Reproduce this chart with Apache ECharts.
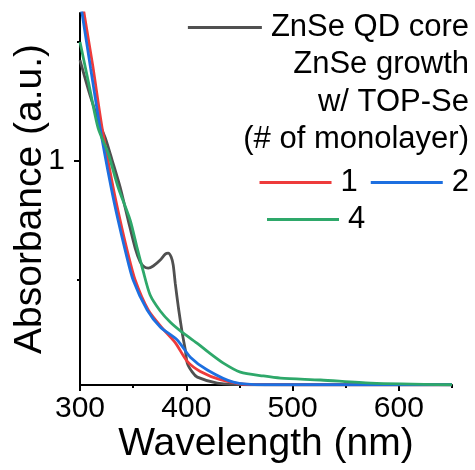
<!DOCTYPE html>
<html>
<head>
<meta charset="utf-8">
<script src="https://cdn.jsdelivr.net/npm/echarts@6/dist/echarts.min.js"></script>
<style>
  html, body { margin: 0; padding: 0; background: #fff; }
  #chart { width: 475px; height: 470px; }
</style>
</head>
<body>
<div id="chart"></div>
<script>
// Absorption spectra: ZnSe QD core and after ZnSe shell growth with TOP-Se
const seriesNames = ['ZnSe QD core', '1', '2', '4'];
const seriesColors = ['#505050', '#ee3b3b', '#1d6fe0', '#2ea86a'];

const coreWl  = [300, 309.4, 318.9, 324.5, 330.2, 337.7, 345.3, 351.9, 356.6, 360.4, 364.2, 368.9, 375.5, 380.2, 383.0, 385.8, 387.7, 389.6, 392.5, 396.2, 399.1, 400.9, 405.7, 410.4, 429.2, 460.4, 550, 650];
const coreAbs = [1.424, 1.277, 1.151, 1.088, 1.004, 0.891, 0.752, 0.634, 0.576, 0.555, 0.550, 0.559, 0.584, 0.609, 0.613, 0.597, 0.563, 0.487, 0.387, 0.277, 0.206, 0.151, 0.113, 0.092, 0.067, 0.060, 0.060, 0.060];

const ml1Wl  = [300, 303.8, 312, 320.8, 331.1, 337.7, 344.3, 351.9, 364.2, 376.4, 389.6, 400.9, 413.2, 432.1, 459.4, 550, 650];
const ml1Abs = [1.73, 1.622, 1.40, 1.139, 0.891, 0.752, 0.626, 0.500, 0.374, 0.303, 0.237, 0.158, 0.116, 0.082, 0.061, 0.060, 0.060];

const ml2Wl  = [300, 301.9, 310, 318.9, 329.2, 335.8, 342.5, 350.0, 363.2, 375.5, 391.5, 403.8, 419.8, 444.3, 474.5, 550, 650];
const ml2Abs = [1.68, 1.622, 1.39, 1.139, 0.891, 0.752, 0.626, 0.500, 0.374, 0.303, 0.248, 0.176, 0.122, 0.071, 0.060, 0.060, 0.060];

const ml4Wl  = [300, 308.5, 317, 326.4, 335.8, 347.2, 353.8, 359.4, 366.0, 375.5, 385.0, 397.2, 411.3, 420.8, 434.9, 450.9, 472.6, 488.7, 526.4, 573.6, 650];
const ml4Abs = [1.50, 1.319, 1.139, 1.034, 0.891, 0.752, 0.634, 0.538, 0.437, 0.370, 0.323, 0.277, 0.231, 0.197, 0.151, 0.113, 0.097, 0.088, 0.080, 0.067, 0.060];

const xMajorTicks = [300, 400, 500, 600];
const xMinorTicks = [350, 450, 550, 650];
const yMajorTicks = [1];
const yMinorTicks = [0.5, 1.5];

const pairs = (xs, ys) => xs.map((x, i) => [x, ys[i]]);
const seriesData = [
  pairs(coreWl, coreAbs),
  pairs(ml1Wl, ml1Abs),
  pairs(ml2Wl, ml2Abs),
  pairs(ml4Wl, ml4Abs)
];

const FONT = 'Liberation Sans, Arial, sans-serif';
const X_MIN = 300, X_MAX = 650, Y_MIN = 0.059, Y_MAX = 1.622;

const chart = echarts.init(document.getElementById('chart'), null, { renderer: 'canvas' });

const legendText = { fontFamily: FONT, fontSize: 31, color: '#000', lineHeight: 31, padding: [0, 0, 0, 4] };

chart.setOption({
  animation: false,
  backgroundColor: '#fff',
  grid: { left: 80, right: 23, top: 13, bottom: 85, containLabel: false, outerBoundsMode: 'none' },
  xAxis: [
    {
      type: 'value', min: X_MIN, max: X_MAX,
      name: 'Wavelength (nm)', nameLocation: 'middle', nameGap: 40, nameMoveOverlap: false,
      nameTextStyle: { fontFamily: FONT, fontSize: 39, color: '#000' },
      axisLine: { show: true, onZero: false, lineStyle: { color: '#000', width: 2 } },
      axisTick: { show: true, inside: false, length: 6, customValues: xMajorTicks, lineStyle: { color: '#000', width: 2 } },
      axisLabel: { customValues: xMajorTicks, margin: 9, fontFamily: FONT, fontSize: 30, color: '#000' },
      splitLine: { show: false }
    },
    {
      type: 'value', min: X_MIN, max: X_MAX, position: 'bottom', offset: 0,
      axisLine: { show: false },
      axisTick: { show: true, length: 3, customValues: xMinorTicks, lineStyle: { color: '#000', width: 2 } },
      axisLabel: { show: false },
      splitLine: { show: false }
    }
  ],
  yAxis: [
    {
      type: 'value', min: Y_MIN, max: Y_MAX,
      name: 'Absorbance (a.u.)', nameLocation: 'middle', nameGap: 30, nameMoveOverlap: false,
      nameTextStyle: { fontFamily: FONT, fontSize: 39, color: '#000' },
      axisLine: { show: true, onZero: false, lineStyle: { color: '#000', width: 2 } },
      axisTick: { show: true, length: 6, customValues: yMajorTicks, lineStyle: { color: '#000', width: 2 } },
      axisLabel: { customValues: yMajorTicks, margin: 15, fontFamily: FONT, fontSize: 30, color: '#000' },
      splitLine: { show: false }
    },
    {
      type: 'value', min: Y_MIN, max: Y_MAX, position: 'left', offset: 0,
      axisLine: { show: false },
      axisTick: { show: true, length: 3, customValues: yMinorTicks, lineStyle: { color: '#000', width: 2 } },
      axisLabel: { show: false },
      splitLine: { show: false }
    }
  ],
  legend: [
    {
      data: [seriesNames[0]], right: 6, top: 12, padding: 0, orient: 'horizontal',
      icon: 'rect', itemWidth: 74, itemHeight: 3, itemGap: 13,
      textStyle: legendText
    },
    {
      data: [seriesNames[1], seriesNames[2]], right: 6, top: 167, padding: 0, orient: 'horizontal',
      icon: 'rect', itemWidth: 72, itemHeight: 3, itemGap: 13,
      textStyle: legendText
    },
    {
      data: [seriesNames[3]], left: 267, top: 204, padding: 0, orient: 'horizontal',
      icon: 'rect', itemWidth: 72, itemHeight: 3, itemGap: 13,
      textStyle: legendText
    }
  ],
  graphic: [
    {
      type: 'text', right: 6, top: 46,
      style: {
        text: 'ZnSe growth\nw/ TOP-Se\n(# of monolayer)',
        font: '31px ' + FONT, fill: '#000', textAlign: 'right', lineHeight: 37.5
      }
    }
  ],
  series: seriesNames.map((name, i) => ({
    name: name,
    type: 'line',
    xAxisIndex: 0, yAxisIndex: 0,
    data: seriesData[i],
    showSymbol: false, symbol: 'none',
    smooth: 0.25,
    clip: true,
    color: seriesColors[i],
    lineStyle: { color: seriesColors[i], width: 2.8 },
    z: 2 + i
  }))
});
</script>
</body>
</html>
